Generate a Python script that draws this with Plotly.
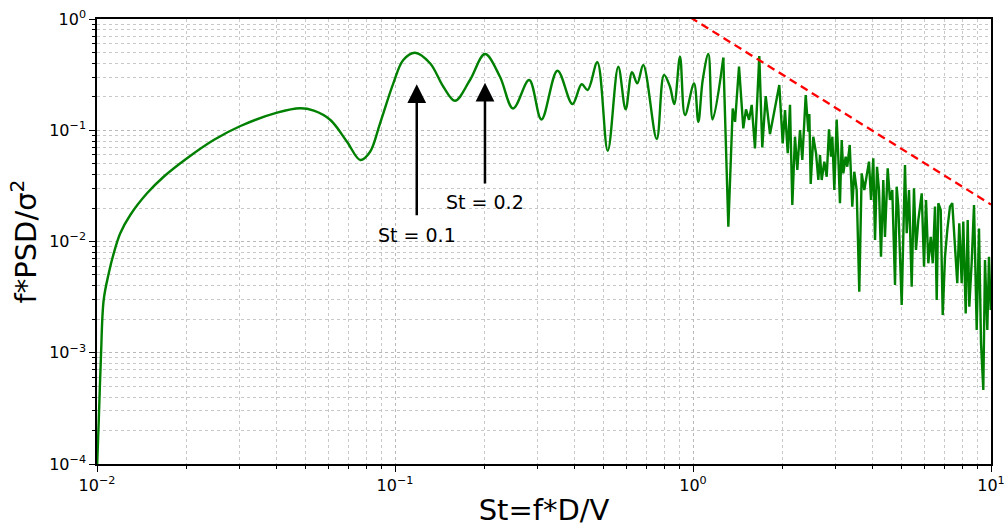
import numpy as np
import plotly.graph_objects as go

# Strouhal number (x) and normalised spectrum f*PSD/sigma^2 (y)
st = [0.0100, 0.01013, 0.01031, 0.01053, 0.01095, 0.01138, 0.01197, 0.01293, 0.01472, 0.01674,
      0.02005, 0.02463, 0.0303, 0.0402, 0.0481, 0.0534, 0.0607, 0.0690, 0.0765, 0.0824,
      0.0891, 0.0987, 0.1066, 0.1167, 0.1311, 0.1453, 0.159, 0.1785, 0.2004, 0.225,
      0.249, 0.282, 0.310, 0.351, 0.394, 0.423, 0.443, 0.4774, 0.5175, 0.5614,
      0.5943, 0.6243, 0.650, 0.681, 0.7555, 0.7993, 0.837, 0.865, 0.9045, 0.940,
      1.008, 1.042, 1.078, 1.126, 1.164, 1.264, 1.314, 1.359, 1.384, 1.427,
      1.475, 1.506, 1.542, 1.574, 1.614, 1.669, 1.708, 1.754, 1.813, 1.948,
      2.000, 2.036, 2.079, 2.116, 2.154, 2.199, 2.239, 2.286, 2.327, 2.389,
      2.438, 2.457, 2.483, 2.533, 2.587, 2.634, 2.668, 2.703, 2.758, 2.810,
      2.860, 2.905, 2.935, 2.980, 3.035, 3.073, 3.113, 3.155, 3.195, 3.253,
      3.294, 3.357, 3.424, 3.477, 3.542, 3.614, 3.682, 3.757, 3.896, 3.957,
      4.027, 4.081, 4.145, 4.209, 4.274, 4.351, 4.408, 4.501, 4.581, 4.664,
      4.763, 4.825, 4.886, 5.015, 5.145, 5.214, 5.307, 5.418, 5.515, 5.601,
      5.703, 5.855, 5.960, 6.053, 6.161, 6.277, 6.374, 6.488, 6.574, 6.656,
      6.780, 6.886, 7.009, 7.135, 7.283, 7.414, 7.571, 7.706, 7.826, 7.973,
      8.072, 8.225, 8.353, 8.456, 8.616, 8.770, 8.954, 9.115, 9.257, 9.423,
      9.547, 9.719, 9.847, 9.977]

psd = [9.0e-5, 2.32e-4, 9.2e-4, 2.98e-3, 5.18e-3, 7.83e-3, 0.01185, 0.0173, 0.0271, 0.0382,
       0.0560, 0.0817, 0.1092, 0.1438, 0.1575, 0.1499, 0.1237, 0.0789, 0.0540, 0.0637,
       0.1155, 0.264, 0.428, 0.498, 0.400, 0.246, 0.184, 0.283, 0.484, 0.303,
       0.157, 0.283, 0.125, 0.343, 0.172, 0.259, 0.230, 0.408, 0.0655, 0.3726,
       0.1543, 0.332, 0.264, 0.386, 0.0834, 0.314, 0.246, 0.172, 0.458, 0.137,
       0.264, 0.119, 0.283, 0.484, 0.125, 0.449, 0.0136, 0.157, 0.119, 0.373,
       0.104, 0.154, 0.124, 0.169, 0.0688, 0.465, 0.0702, 0.203, 0.0925, 0.255,
       0.0763, 0.152, 0.0621, 0.169, 0.0213, 0.0875, 0.0439, 0.1005, 0.054, 0.207,
       0.097, 0.140, 0.0329, 0.0875, 0.0621, 0.0357, 0.0599, 0.0357, 0.0522, 0.0382,
       0.102, 0.0578, 0.0875, 0.029, 0.125, 0.0578, 0.0221, 0.0817, 0.041, 0.0578,
       0.047, 0.0737, 0.0206, 0.0424, 0.029, 0.00354, 0.041, 0.029, 0.0522, 0.0236,
       0.056, 0.0103, 0.047, 0.029, 0.0073, 0.0357, 0.0110, 0.0455, 0.0236, 0.029,
       0.00406, 0.0311, 0.0206, 0.00269, 0.0487, 0.01185, 0.029, 0.00392, 0.0301, 0.0084,
       0.0156, 0.0271, 0.00594, 0.0236, 0.00637, 0.011, 0.00637, 0.0206, 0.00298, 0.0221,
       0.0192, 0.00218, 0.0073, 0.0127, 0.0206, 0.0221, 0.00964, 0.00421, 0.0146, 0.00421,
       0.0151, 0.00226, 0.0156, 0.00259, 0.00658, 0.0213, 0.0016, 0.0131, 0.00122, 0.000463,
       0.00682, 0.0016, 0.0073, 0.00242]

# -5/3 reference slope line end points
slope_x = [0.9, 10.0]
slope_y = [1.192, 0.0215]

# Arrow annotations: label, St position, arrow tip, arrow tail, text y
ann_labels = ["St = 0.1", "St = 0.2"]
ann_x = [0.1183, 0.2004]
ann_tip = [0.259, 0.2676]
ann_tail = [0.0167, 0.0322]
ann_text_y = [0.01144, 0.0228]

x_tickvals = [0.01, 0.1, 1, 10]
x_ticktext = ["10<sup>−2</sup>", "10<sup>−1</sup>", "10<sup>0</sup>", "10<sup>1</sup>"]
y_tickvals = [1e-4, 1e-3, 1e-2, 1e-1, 1]
y_ticktext = ["10<sup>−4</sup>", "10<sup>−3</sup>", "10<sup>−2</sup>", "10<sup>−1</sup>", "10<sup>0</sup>"]

FONT = "DejaVu Sans"
GREEN = "#008000"

# smooth low-frequency part drawn as a spline, noisy tail as straight segments
split = st.index(1.264)

fig = go.Figure()
fig.add_trace(go.Scatter(x=st[:split + 1], y=psd[:split + 1], mode="lines",
                         line=dict(color=GREEN, width=2.4, shape="spline", smoothing=1.0),
                         showlegend=False))
fig.add_trace(go.Scatter(x=st[split:], y=psd[split:], mode="lines",
                         line=dict(color=GREEN, width=2.4), showlegend=False))
fig.add_trace(go.Scatter(x=slope_x, y=slope_y, mode="lines",
                         line=dict(color="#ff0000", width=2.3, dash="8px,5px"), showlegend=False))

for lab, xv, tip, tail, ty in zip(ann_labels, ann_x, ann_tip, ann_tail, ann_text_y):
    fig.add_annotation(x=np.log10(xv), y=np.log10(tip), ax=np.log10(xv), ay=np.log10(tail),
                       xref="x", yref="y", axref="x", ayref="y", text="",
                       showarrow=True, arrowhead=2, arrowsize=1.5, arrowwidth=2.5,
                       arrowcolor="black")
    fig.add_annotation(x=np.log10(xv), y=np.log10(ty), xref="x", yref="y", text=lab,
                       showarrow=False, font=dict(family=FONT, size=19, color="black"))

minor_vals = [m * 10.0 ** e for e in range(-4, 1) for m in range(2, 10)]
grid_major = dict(showgrid=True, gridcolor="#b8b8b8", griddash="dot", gridwidth=1)

fig.update_xaxes(type="log", range=[-2, 1], tickvals=x_tickvals, ticktext=x_ticktext,
                 showline=True, linecolor="black", linewidth=1.5, mirror=True,
                 ticks="outside", ticklen=6, tickwidth=1.2, tickcolor="black",
                 tickfont=dict(family=FONT, size=16, color="black"), zeroline=False,
                 automargin=False,
                 minor=dict(tickvals=[v for v in minor_vals if 0.01 < v < 10], ticks="outside",
                            ticklen=3, tickwidth=1, tickcolor="black", showgrid=True,
                            gridcolor="#c8c8c8", griddash="dot", gridwidth=1),
                 title=dict(text="St=f*D/V", font=dict(family=FONT, size=29, color="black"),
                            standoff=6),
                 **grid_major)
fig.update_yaxes(type="log", range=[-4, 0], tickvals=y_tickvals, ticktext=y_ticktext,
                 showline=True, linecolor="black", linewidth=1.5, mirror=True,
                 ticks="outside", ticklen=6, tickwidth=1.2, tickcolor="black",
                 tickfont=dict(family=FONT, size=16, color="black"), zeroline=False,
                 automargin=False,
                 minor=dict(tickvals=[v for v in minor_vals if 1e-4 < v < 1], ticks="outside",
                            ticklen=3, tickwidth=1, tickcolor="black", showgrid=True,
                            gridcolor="#c8c8c8", griddash="dot", gridwidth=1),
                 title=dict(text="f*PSD/σ<sup>2</sup>", font=dict(family=FONT, size=29, color="black"),
                            standoff=4),
                 **grid_major)

fig.update_layout(width=1008, height=528, margin=dict(l=97, r=17, t=19, b=64, autoexpand=False),
                  plot_bgcolor="white", paper_bgcolor="white",
                  font=dict(family=FONT, color="black"))

fig.write_html("out.html")
